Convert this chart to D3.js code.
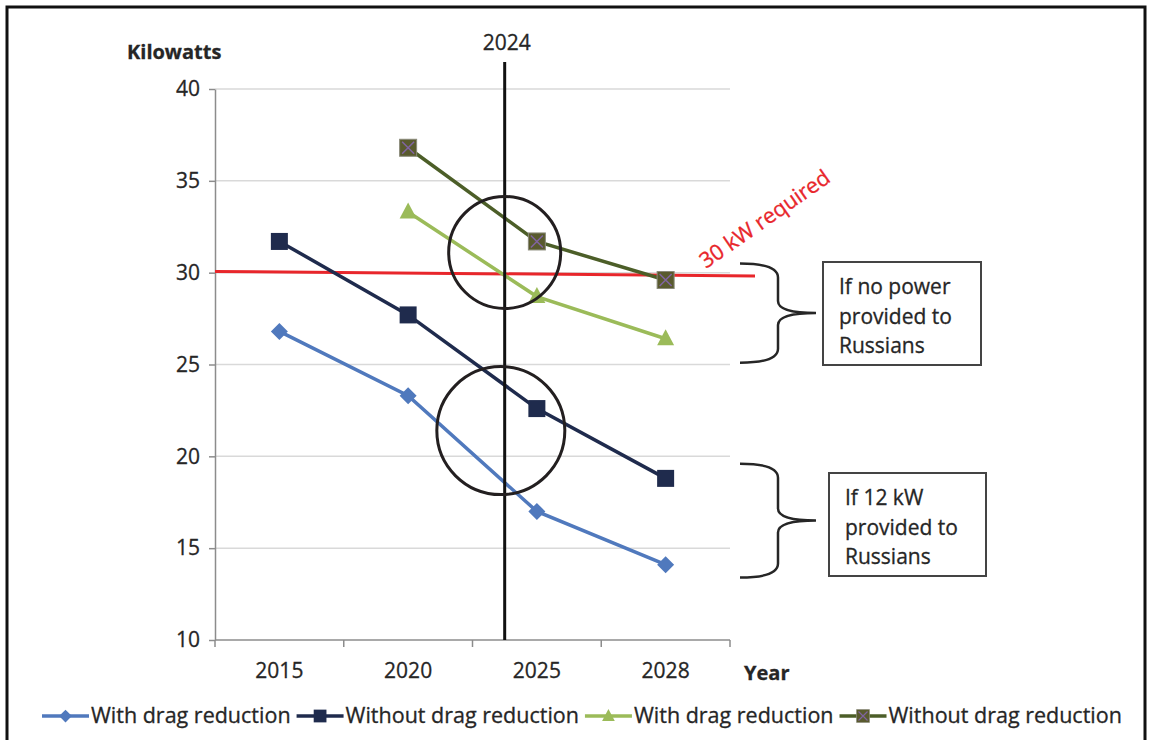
<!DOCTYPE html>
<html>
<head>
<meta charset="utf-8">
<script src="https://cdn.jsdelivr.net/npm/d3@7"></script>
<style>
  body { margin: 0; background: #fff; }
  text { font-family: "Open Sans", sans-serif; fill: #262626; stroke: #262626; stroke-width: 0.3px; }
</style>
</head>
<body>
<div id="canvas"></div>
<script>
"use strict";

// Data
let years = ["2015", "2020", "2025", "2028"];
let withDragRu = [26.8, 23.3, 17.0, 14.1];      // 12 kW to Russians
let withoutDragRu = [31.7, 27.7, 22.6, 18.8];
let withDragNoRu = [null, 33.3, 28.7, 26.4];    // no power to Russians
let withoutDragNoRu = [null, 36.8, 31.7, 29.6];
let yTicks = [10, 15, 20, 25, 30, 35, 40];
let requiredKw = 30;
let markerYear = "2024";

// Canvas
let svgWidth = 1151;
let svgHeight = 740;
let plot = { left: 215, right: 730, top: 89, bottom: 640 };

let svg = d3.select("#canvas").append("svg")
  .attr("width", svgWidth)
  .attr("height", svgHeight)
  .style("display", "block");

// outer frame
svg.append("rect")
  .attr("x", 7).attr("y", 7)
  .attr("width", 1138).attr("height", 745)
  .attr("fill", "white")
  .attr("stroke", "#111")
  .attr("stroke-width", 3);

// Scales
let xScale = d3.scaleBand().domain(years).range([plot.left, plot.right]).padding(0);
let yScale = d3.scaleLinear().domain([10, 40]).range([plot.bottom, plot.top]);
let xMid = function(y) { return xScale(y) + xScale.bandwidth() / 2; };
// continuous year position between 2020 and 2025 category centres
let yearPos = d3.scaleLinear().domain([2020, 2025]).range([xMid("2020"), xMid("2025")]);

// Gridlines
svg.append("g").selectAll("line")
  .data(yTicks.filter(function(t) { return t > 10; }))
  .enter().append("line")
  .attr("x1", plot.left).attr("x2", plot.right)
  .attr("y1", function(d) { return yScale(d); })
  .attr("y2", function(d) { return yScale(d); })
  .attr("stroke", "#d9d9d9")
  .attr("stroke-width", 1.5);

// Y axis
let yAxis = svg.append("g")
  .attr("transform", "translate(" + plot.left + ",0)")
  .call(d3.axisLeft(yScale).tickValues(yTicks).tickSize(6).tickPadding(9).tickSizeOuter(0));
yAxis.select(".domain").attr("stroke", "#8c8c8c").attr("stroke-width", 1.5);
yAxis.selectAll(".tick line").attr("stroke", "#8c8c8c").attr("stroke-width", 1.5);
yAxis.selectAll(".tick text")
  .style("font-size", "21px")
  .style("font-family", "'Open Sans', sans-serif")
  .attr("fill", "#262626");

// X axis (ticks on category edges, labels in the middle)
let xAxis = svg.append("g")
  .attr("transform", "translate(0," + plot.bottom + ")");
xAxis.append("line")
  .attr("x1", plot.left).attr("x2", plot.right)
  .attr("stroke", "#8c8c8c").attr("stroke-width", 1.5);
let edges = years.map(function(y) { return xScale(y); }).concat([plot.right]);
xAxis.selectAll(".edge").data(edges).enter().append("line")
  .attr("x1", function(d) { return d; }).attr("x2", function(d) { return d; })
  .attr("y1", 0).attr("y2", 7)
  .attr("stroke", "#8c8c8c").attr("stroke-width", 1.5);
xAxis.selectAll(".lab").data(years).enter().append("text")
  .attr("x", function(d) { return xMid(d); })
  .attr("y", 38)
  .attr("text-anchor", "middle")
  .style("font-size", "21px")
  .text(function(d) { return d; });

// Axis titles
svg.append("text").attr("x", 127).attr("y", 59)
  .style("font-size", "20px").style("font-weight", "700")
  .text("Kilowatts");
svg.append("text").attr("x", 744).attr("y", 680)
  .style("font-size", "20px").style("font-weight", "700")
  .text("Year");

// Required power line (drawn slightly tilted as in the original)
svg.append("line")
  .attr("x1", plot.left).attr("x2", 755)
  .attr("y1", yScale(requiredKw + 0.07)).attr("y2", yScale(requiredKw - 0.18))
  .attr("stroke", "#e8262b")
  .attr("stroke-width", 3);

// Series
let series = [
  { name: "With drag reduction", values: withDragRu, color: "#5079bd", marker: "diamond" },
  { name: "Without drag reduction", values: withoutDragRu, color: "#1f2b4d", marker: "square" },
  { name: "With drag reduction", values: withDragNoRu, color: "#9bbb59", marker: "triangle" },
  { name: "Without drag reduction", values: withoutDragNoRu, color: "#4c5e28", marker: "xsquare" }
];

let line = d3.line()
  .defined(function(d) { return d.v != null; })
  .x(function(d) { return xMid(d.year); })
  .y(function(d) { return yScale(d.v); });

function drawMarker(g, type, color) {
  if (type == "diamond") {
    g.append("path").attr("d", "M0,-8.5L8.5,0L0,8.5L-8.5,0Z").attr("fill", color);
  } else if (type == "square") {
    g.append("rect").attr("x", -8.5).attr("y", -8.5).attr("width", 17).attr("height", 17).attr("fill", color);
  } else if (type == "triangle") {
    g.append("path").attr("d", "M0,-9.5L8.5,6.5L-8.5,6.5Z").attr("fill", color);
  } else {
    g.append("rect").attr("x", -8.5).attr("y", -8.5).attr("width", 17).attr("height", 17)
      .attr("fill", "#595a2e").attr("stroke", "#8a8a7a").attr("stroke-width", 1);
    g.append("path").attr("d", "M-6,-6L6,6M6,-6L-6,6").attr("stroke", "#8064a2").attr("stroke-width", 1.5);
  }
}

series.forEach(function(s) {
  let pts = years.map(function(y, i) { return { year: y, v: s.values[i] }; });
  svg.append("path")
    .attr("d", line(pts))
    .attr("fill", "none")
    .attr("stroke", s.color)
    .attr("stroke-width", 3.5);
  pts.filter(function(p) { return p.v != null; }).forEach(function(p) {
    let g = svg.append("g").attr("transform", "translate(" + xMid(p.year) + "," + yScale(p.v) + ")");
    drawMarker(g, s.marker, s.color);
  });
});

// 2024 marker line
let markerX = yearPos(2023.75);
svg.append("line")
  .attr("x1", markerX).attr("x2", markerX)
  .attr("y1", 62).attr("y2", plot.bottom)
  .attr("stroke", "#111").attr("stroke-width", 3);
svg.append("text")
  .attr("x", markerX + 2).attr("y", 50)
  .attr("text-anchor", "middle")
  .style("font-size", "21px")
  .text(markerYear);

// Circles around crossing points
let rings = [{ x: 2023.75, kw: 31.1, r: 56 }, { x: 2023.6, kw: 21.4, r: 64 }];
svg.selectAll(".ring").data(rings).enter().append("circle")
  .attr("cx", function(d) { return yearPos(d.x); })
  .attr("cy", function(d) { return yScale(d.kw); })
  .attr("r", function(d) { return d.r; })
  .attr("fill", "none")
  .attr("stroke", "#231f20")
  .attr("stroke-width", 3);

// 30 kW required label
svg.append("text")
  .attr("transform", "translate(706,269) rotate(-35)")
  .style("font-size", "21.5px")
  .style("fill", "#e8262b")
  .style("stroke", "#e8262b")
  .text("30 kW required");

// Braces + boxes
let notes = [
  { top: 30.5, bottom: 25.1, lines: ["If no power", "provided to", "Russians"], box: [823, 262, 158, 103] },
  { top: 19.6, bottom: 13.4, lines: ["If 12 kW", "provided to", "Russians"], box: [829, 473, 157, 103] }
];
notes.forEach(function(n) {
  let y0 = yScale(n.top), y1 = yScale(n.bottom), ym = (y0 + y1) / 2;
  let x0 = 740, xv = 778, xt = 816;
  let d = "M" + x0 + "," + y0 +
    " Q" + xv + "," + y0 + " " + xv + "," + (y0 + 14) +
    " L" + xv + "," + (ym - 12) +
    " Q" + xv + "," + ym + " " + xt + "," + ym +
    " Q" + xv + "," + ym + " " + xv + "," + (ym + 12) +
    " L" + xv + "," + (y1 - 14) +
    " Q" + xv + "," + y1 + " " + x0 + "," + y1;
  svg.append("path").attr("d", d)
    .attr("fill", "none").attr("stroke", "#262626").attr("stroke-width", 2.5);
  svg.append("rect")
    .attr("x", n.box[0]).attr("y", n.box[1])
    .attr("width", n.box[2]).attr("height", n.box[3])
    .attr("fill", "white").attr("stroke", "#444").attr("stroke-width", 2);
  n.lines.forEach(function(t, i) {
    svg.append("text")
      .attr("x", n.box[0] + 16).attr("y", n.box[1] + 32 + i * 29.5)
      .style("font-size", "21px")
      .text(t);
  });
});

// Legend
let legend = svg.append("g").attr("transform", "translate(42,716)");
let lx = 0;
series.forEach(function(s) {
  let g = legend.append("g").attr("transform", "translate(" + lx + ",0)");
  g.append("line").attr("x1", 0).attr("x2", 47).attr("stroke", s.color).attr("stroke-width", 3.5);
  let m = g.append("g").attr("transform", "translate(23.5,0) scale(0.75)");
  drawMarker(m, s.marker, s.color);
  let t = g.append("text").attr("x", 49).attr("y", 7)
    .style("font-size", "21.5px")
    .text(s.name);
  lx += 49 + t.node().getComputedTextLength() + 6;
});
</script>
</body>
</html>
